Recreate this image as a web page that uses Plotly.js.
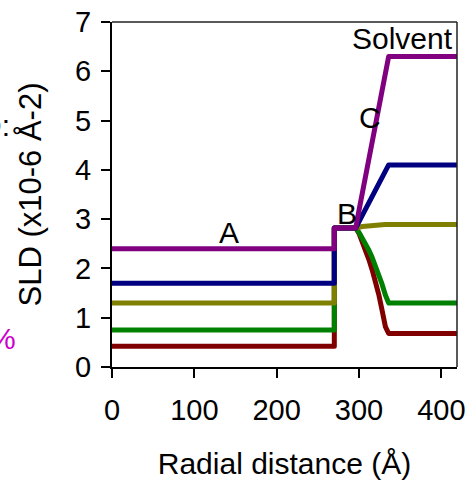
<!DOCTYPE html>
<html>
<head>
<meta charset="utf-8">
<script src="https://cdn.plot.ly/plotly-3.0.1.min.js"></script>
<style>
  html, body { margin: 0; padding: 0; background: #fff; }
  #chart { width: 473px; height: 480px; }
  #chart .js-line { stroke-linejoin: round; stroke-linecap: butt; }
</style>
</head>
<body>
<div id="chart"></div>
<script>
// Radial SLD profiles: core (A), shell step (B), solvent-exchange ramp (C)
const radius = [0, 270, 270, 296, 300, 304, 308, 312, 316, 320, 324, 328, 332, 336, 419];

const sldMaroon = [0.42, 0.42, 2.82, 2.82, 2.71, 2.55, 2.37, 2.18, 1.97, 1.74, 1.47, 1.15, 0.82, 0.68, 0.68];
const sldGreen  = [0.75, 0.75, 2.82, 2.82, 2.73, 2.62, 2.50, 2.37, 2.22, 2.06, 1.88, 1.68, 1.46, 1.30, 1.30];
const sldOlive  = [1.30, 1.30, 2.82, 2.82, 2.835, 2.85, 2.86, 2.87, 2.875, 2.88, 2.885, 2.888, 2.89, 2.89, 2.89];
const sldNavy   = [1.70, 1.70, 2.82, 2.82, 2.95, 3.08, 3.21, 3.35, 3.48, 3.61, 3.74, 3.87, 4.00, 4.10, 4.10];
const sldPurple = [2.40, 2.40, 2.82, 2.82, 3.18, 3.53, 3.89, 4.25, 4.60, 4.96, 5.32, 5.67, 6.03, 6.30, 6.30];

const seriesNames  = ['maroon', 'green', 'olive', 'navy', 'purple'];
const seriesValues = [sldMaroon, sldGreen, sldOlive, sldNavy, sldPurple];
const seriesColors = ['#800000', '#008000', '#808000', '#000080', '#800080'];

const regionLabels = ['A', 'B', 'C', 'Solvent'];
const regionX      = [142, 285, 313, 353];
const regionY      = [2.72, 3.12, 5.06, 6.67];

const xTicks = [0, 100, 200, 300, 400];
const yTicks = [0, 1, 2, 3, 4, 5, 6, 7];

const FONT = 'Liberation Sans, Arial, sans-serif';

const traces = seriesValues.map((vals, i) => ({
  x: radius,
  y: vals,
  name: seriesNames[i],
  type: 'scatter',
  mode: 'lines',
  line: { color: seriesColors[i], width: 5 },
  hoverinfo: 'skip'
}));

const annotations = regionLabels.map((t, i) => ({
  text: t, x: regionX[i], y: regionY[i], xref: 'x', yref: 'y',
  showarrow: false, font: { family: FONT, size: 30, color: '#000' }
}));

// legend text sitting past the left edge of the figure
annotations.push(
  { text: 'D2O:', xref: 'paper', yref: 'paper', x: (12 - 112) / 345, y: (367 - 125) / 345,
    xanchor: 'right', yanchor: 'middle', showarrow: false,
    font: { family: FONT, size: 30, color: '#000' } },
  { text: '100%', xref: 'paper', yref: 'paper', x: (18 - 112) / 345, y: (367 - 338) / 345,
    xanchor: 'right', yanchor: 'middle', showarrow: false,
    font: { family: FONT, size: 30, color: '#cc00cc' } }
);

const layout = {
  width: 473,
  height: 480,
  margin: { l: 112, r: 16, t: 22, b: 113, pad: 0 },
  paper_bgcolor: '#fff',
  plot_bgcolor: '#fff',
  showlegend: false,
  font: { family: FONT, color: '#000' },
  xaxis: {
    range: [0, 419],
    tickvals: xTicks,
    ticks: 'outside', ticklen: 9, tickwidth: 2, tickcolor: '#000',
    showline: true, linewidth: 2, linecolor: '#000',
    showgrid: false, zeroline: false,
    ticklabelstandoff: 7,
    tickfont: { family: FONT, size: 29, color: '#000' },
    title: { text: 'Radial distance (Å)', font: { family: FONT, size: 30, color: '#000' }, standoff: 28 }
  },
  yaxis: {
    range: [0, 7],
    tickvals: yTicks,
    ticks: 'outside', ticklen: 9, tickwidth: 2, tickcolor: '#000',
    showline: true, linewidth: 2, linecolor: '#000',
    showgrid: false, zeroline: false,
    ticklabelstandoff: 4,
    tickfont: { family: FONT, size: 29, color: '#000' },
    title: { text: 'SLD (x10-6 Å-2)', font: { family: FONT, size: 31, color: '#000' }, standoff: 24 }
  },
  shapes: [
    { type: 'line', xref: 'paper', yref: 'paper', x0: 0, x1: 1, y0: 1, y1: 1,
      line: { color: '#222', width: 1.5 } },
    { type: 'line', xref: 'paper', yref: 'paper', x0: 1, x1: 1, y0: 0, y1: 1,
      line: { color: '#222', width: 1.5 } }
  ],
  annotations: annotations
};

Plotly.newPlot('chart', traces, layout, { displayModeBar: false, staticPlot: true });
</script>
</body>
</html>
